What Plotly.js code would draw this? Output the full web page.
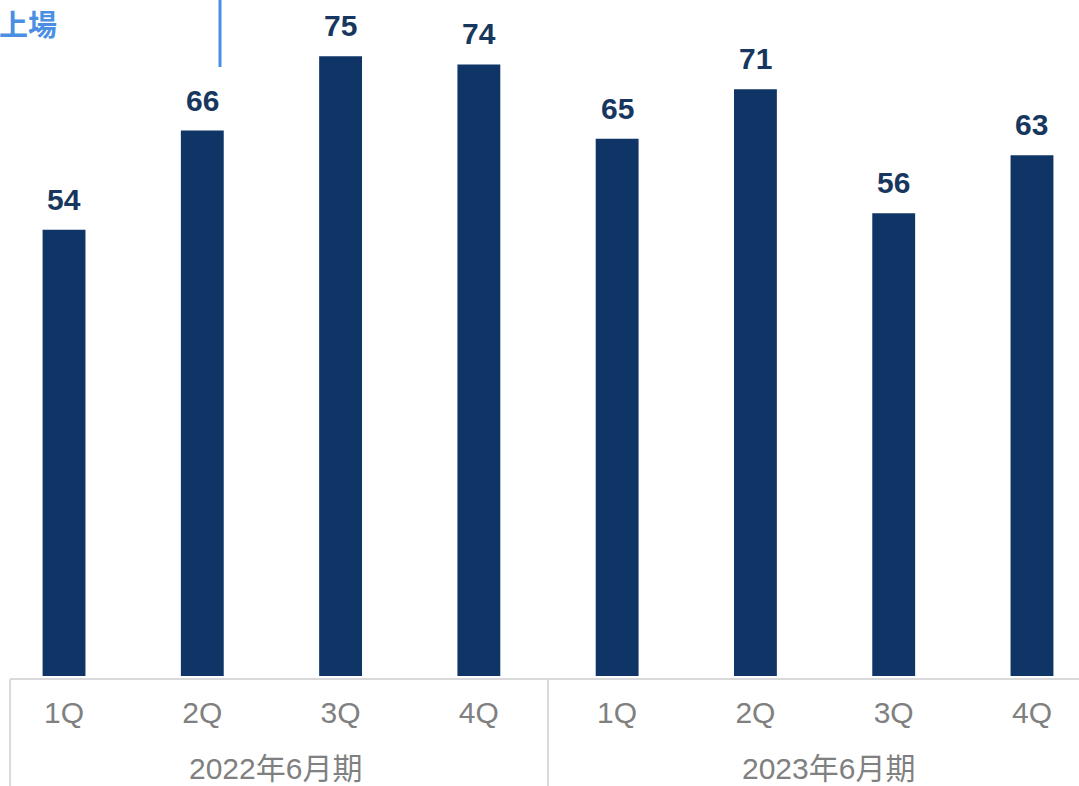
<!DOCTYPE html>
<html>
<head>
<meta charset="utf-8">
<script src="https://cdn.plot.ly/plotly-3.0.1.min.js"></script>
<style>
  html, body { margin: 0; padding: 0; background: #fff; }
  #chart { width: 1079px; height: 786px; }
</style>
</head>
<body>
<div id="chart"></div>
<script>
// quarterly values, two fiscal years
var quarters = ["1Q", "2Q", "3Q", "4Q", "1Q", "2Q", "3Q", "4Q"];
var values = [54, 66, 75, 74, 65, 71, 56, 63];
var periods = ["2022年6月期", "2023年6月期"];
var markLabel = "上場";

var xs = [];
for (var i = 0; i < values.length; i++) xs.push(i);

var xmin = -0.463, xmax = 7.34;
function px(x) { return (x - xmin) / (xmax - xmin); }   // data x -> paper x

var navy = "#0E3566";
var gray = "#D9D9D9";
var tickGray = "#808080";

var bars = {
    x: xs,
    y: values,
    type: "bar",
    width: 0.31,
    marker: { color: navy },
    hoverinfo: "y"
};

var annotations = [];
for (var i = 0; i < values.length; i++) {
    annotations.push({
        x: xs[i], y: values[i], xref: "x", yref: "y",
        text: "<b>" + values[i] + "</b>",
        showarrow: false, yanchor: "bottom", yshift: 12,
        font: { family: "Liberation Sans, Arial, sans-serif", size: 30, color: "#17375E" }
    });
}
// fiscal period labels under each group of 4
for (var g = 0; g < periods.length; g++) {
    annotations.push({
        x: g * 4 + 1.53, y: -0.137, xref: "x", yref: "paper",
        text: periods[g], showarrow: false, yanchor: "middle",
        font: { family: "Liberation Sans, Arial, Noto Sans CJK JP, sans-serif", size: 30, color: tickGray }
    });
}
annotations.push({
    x: 0, y: 1.0, xref: "paper", yref: "paper",
    text: "<b>" + markLabel + "</b>", showarrow: false,
    xanchor: "left", yanchor: "top", xshift: -3, yshift: 0,
    font: { family: "Noto Sans CJK JP, sans-serif", size: 29, color: "#4A8FE3" }
});

var yb = -3 / 676;
var ybot = -115 / 676;
var shapes = [
    { type: "line", xref: "paper", yref: "paper", x0: px(-0.39), x1: 1, y0: yb, y1: yb,
      line: { color: gray, width: 2 } },
    { type: "line", xref: "paper", yref: "paper", x0: px(-0.39), x1: px(-0.39), y0: yb, y1: ybot,
      line: { color: gray, width: 2 } },
    { type: "line", xref: "paper", yref: "paper", x0: px(3.5), x1: px(3.5), y0: yb, y1: ybot,
      line: { color: gray, width: 2 } },
    // listing marker line
    { type: "line", xref: "paper", yref: "paper", x0: px(1.128), x1: px(1.128), y0: 1.01, y1: 1 - 67 / 676,
      line: { color: "#4A8FE3", width: 3 } }
];

var layout = {
    width: 1079,
    height: 786,
    margin: { l: 0, r: 0, t: 0, b: 110 },
    paper_bgcolor: "#fff",
    plot_bgcolor: "#fff",
    showlegend: false,
    xaxis: {
        range: [xmin, xmax],
        tickvals: xs,
        ticktext: quarters,
        showgrid: false, zeroline: false, showline: false,
        ticks: "", ticklabelstandoff: 16,
        tickfont: { family: "Liberation Sans, Arial, sans-serif", size: 30, color: tickGray },
        fixedrange: true
    },
    yaxis: {
        range: [0, 81.8],
        visible: false,
        fixedrange: true
    },
    annotations: annotations,
    shapes: shapes
};

Plotly.newPlot("chart", [bars], layout, { displayModeBar: false, staticPlot: true });
</script>
</body>
</html>
